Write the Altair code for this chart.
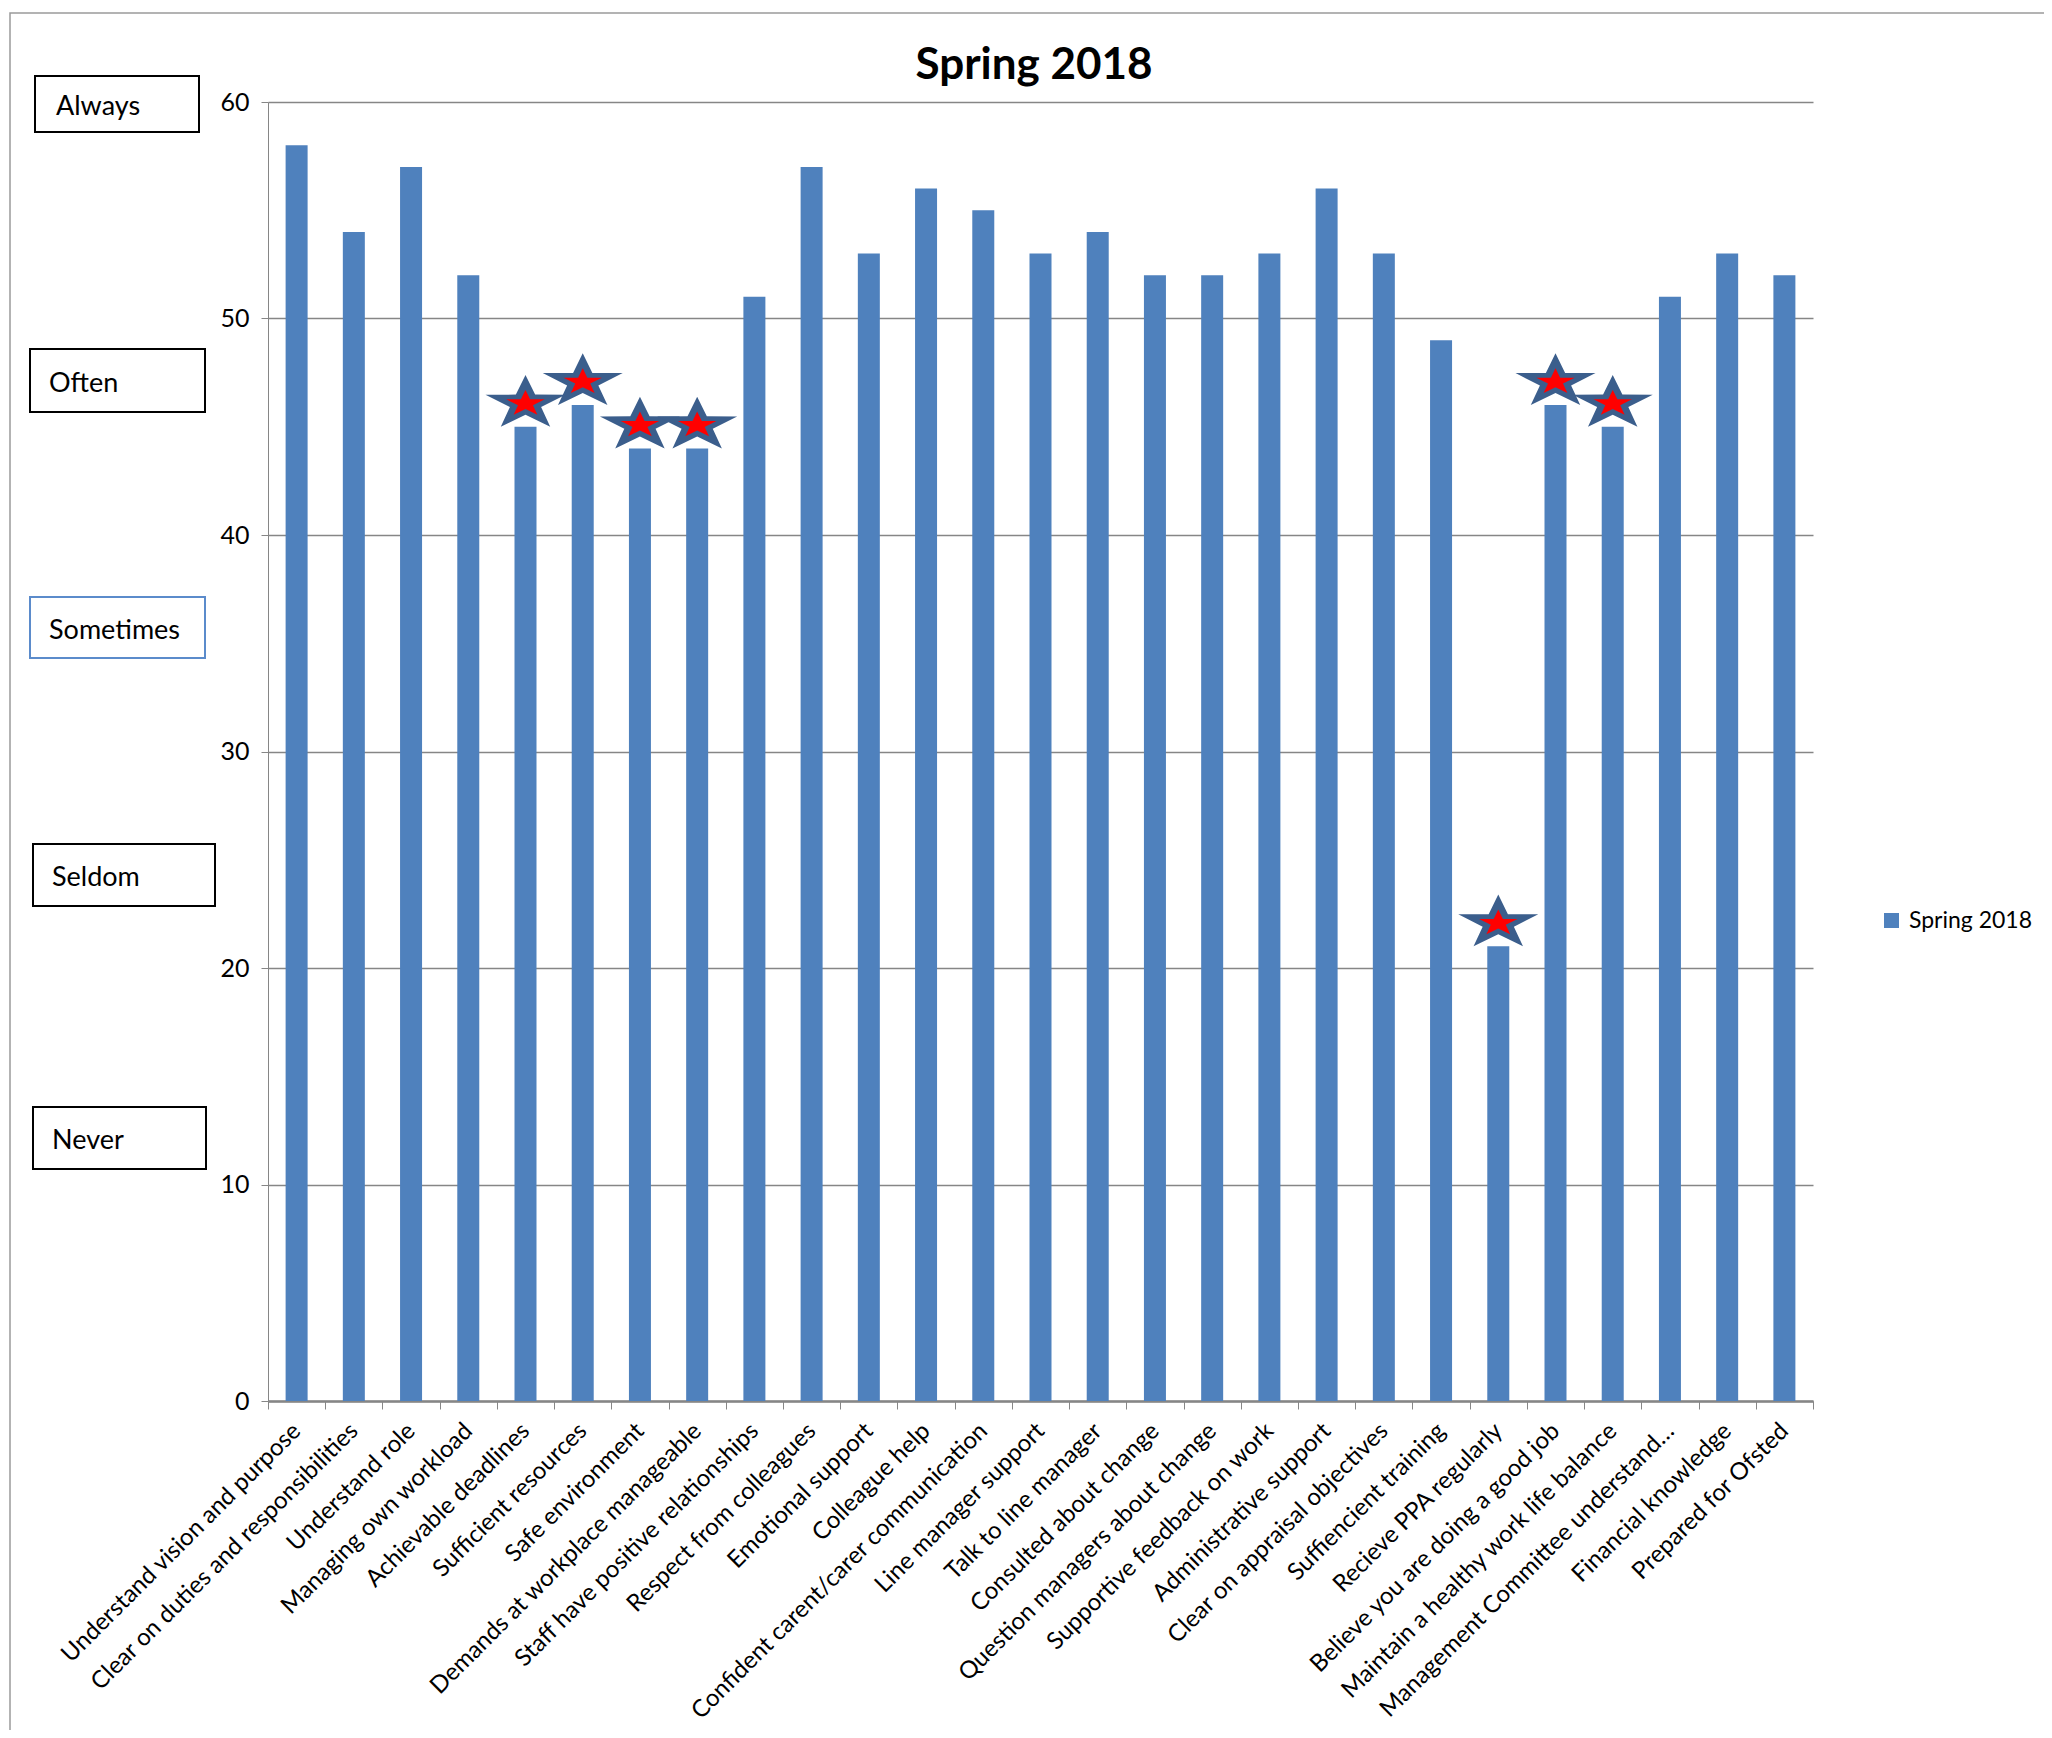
import math
import altair as alt
import pandas as pd

# ---------------- data ----------------
categories = [
    "Understand vision and purpose",
    "Clear on duties and responsibilities",
    "Understand role",
    "Managing own workload",
    "Achievable deadlines",
    "Sufficient resources",
    "Safe environment",
    "Demands at workplace manageable",
    "Staff have positive relationships",
    "Respect from colleagues",
    "Emotional support",
    "Colleague help",
    "Confident carent/carer communication",
    "Line manager support",
    "Talk to line manager",
    "Consulted about change",
    "Question managers about change",
    "Supportive feedback on work",
    "Administrative support",
    "Clear on appraisal objectives",
    "Suffiencient training",
    "Recieve PPA regularly",
    "Believe you are doing a good job",
    "Maintain a healthy work life balance",
    "Management Committee understand\u2026",
    "Financial knowledge",
    "Prepared for Ofsted",
]
values = [58, 54, 57, 52, 45, 46, 44, 44, 51, 57, 53, 56, 55, 53, 54, 52, 52,
          53, 56, 53, 49, 21, 46, 45, 51, 53, 52]
starred = [
    "Achievable deadlines",
    "Sufficient resources",
    "Safe environment",
    "Demands at workplace manageable",
    "Recieve PPA regularly",
    "Believe you are doing a good job",
    "Maintain a healthy work life balance",
]
y_ticks = [0, 10, 20, 30, 40, 50, 60]
series_name = "Spring 2018"
chart_title = "Spring 2018"
scale_labels = ["Always", "Often", "Sometimes", "Seldom", "Never"]

df = pd.DataFrame({"category": categories, "value": values, "series": series_name})

# ---------------- style / layout ----------------
W, H = 1545, 1299
FONT = "Lato"
BAR = "#4F81BD"
GRID = "#868686"


def star_path(scale, inner=0.39, squash=0.68):
    R = 1.0 / math.sin(math.radians(72))
    shift = R * math.cos(math.radians(36)) * squash
    pts = []
    for k in range(10):
        th = math.radians(36 * k)
        r = R * scale * (1.0 if k % 2 == 0 else inner)
        x = r * math.sin(th)
        y = -r * math.cos(th) * squash - shift
        pts.append(f"{x:.4f},{y:.4f}")
    return "M" + "L".join(pts) + "Z"


one = alt.Data(values=[{"k": 0}])

frame = alt.Chart(one).mark_rect(fillOpacity=0, stroke="#9a9a9a", strokeWidth=1.5).encode(
    x=alt.value(-258), x2=alt.value(W + 300), y=alt.value(-89), y2=alt.value(H + 400)
)

box_geom = [
    (-233, -69, -26, 30, -212, "black"),
    (-238, -63, 247, 310, -219, "black"),
    (-238, -63, 495, 556, -219, "#5B8BCB"),
    (-235, -53, 742, 804, -216, "black"),
    (-235, -62, 1005, 1067, -216, "black"),
]
boxes = []
for lab, (x0, x1, y0, y1, tx, col) in zip(scale_labels, box_geom):
    boxes.append(
        alt.Chart(one).mark_rect(fill="white", stroke=col, strokeWidth=2).encode(
            x=alt.value(x0), x2=alt.value(x1), y=alt.value(y0), y2=alt.value(y1)
        )
    )
    boxes.append(
        alt.Chart(one).mark_text(align="left", baseline="middle", font=FONT, fontSize=27,
                                 color="black").encode(
            x=alt.value(tx), y=alt.value((y0 + y1) / 2 + 3), text=alt.value(lab)
        )
    )

x_enc = alt.X(
    "category:N",
    sort=categories,
    scale=alt.Scale(domain=categories, paddingInner=0, paddingOuter=0),
    axis=alt.Axis(
        title=None, labelAngle=-45, labelAlign="right", labelBaseline="middle",
        labelLimit=2000, labelOverlap=False, labelFont=FONT, labelFontSize=24,
        labelColor="black", labelPadding=18, tickBand="extent", ticks=True,
        tickSize=8, tickColor=GRID, domainColor=GRID, domainWidth=2.5, grid=False,
    ),
)
y_enc = alt.Y(
    "value:Q",
    scale=alt.Scale(domain=[0, 60], nice=False),
    axis=alt.Axis(
        values=y_ticks, title=None, grid=True, gridColor=GRID, gridWidth=1.5,
        domainColor=GRID, tickColor=GRID, tickSize=7, labelPadding=12,
        labelFont=FONT, labelFontSize=25, labelColor="black",
    ),
)

bars = alt.Chart(df).mark_bar(width=22).encode(
    x=x_enc,
    y=y_enc,
    color=alt.Color(
        "series:N",
        scale=alt.Scale(domain=[series_name], range=[BAR]),
        legend=alt.Legend(
            title=None, orient="none", legendX=1612, legendY=807, symbolType="square",
            symbolSize=225, symbolStrokeWidth=0, labelFont=FONT, labelFontSize=23,
            labelColor="black", labelOffset=6, padding=0,
        ),
    ),
)

star_base = alt.Chart(df).transform_filter(
    alt.FieldOneOfPredicate(field="category", oneOf=starred)
)
STAR_SIZE = 6400
star_outer = star_base.mark_point(
    shape=star_path(1.0), filled=True, fill="#3B5E8C", size=STAR_SIZE, opacity=1, strokeWidth=0
).encode(x=alt.X("category:N", sort=categories), y=alt.Y("value:Q"))
star_inner = star_base.mark_point(
    shape=star_path(0.48), filled=True, fill="#FF0000", size=STAR_SIZE, opacity=1, strokeWidth=0
).encode(x=alt.X("category:N", sort=categories), y=alt.Y("value:Q"))

title = alt.Chart(one).mark_text(
    font=FONT, fontSize=44, fontWeight="bold", align="center", baseline="alphabetic", color="black"
).encode(x=alt.value(766), y=alt.value(-23), text=alt.value(chart_title))

chart = (
    alt.layer(frame, *boxes, bars, star_outer, star_inner, title)
    .properties(
        width=W,
        height=H,
        autosize=alt.AutoSizeParams(type="none"),
        padding={"left": 260, "top": 94, "right": 231, "bottom": 329},
        background="white",
    )
    .configure_view(stroke=None)
)

chart.save("out.html", embed_options={"renderer": "svg", "actions": False})
